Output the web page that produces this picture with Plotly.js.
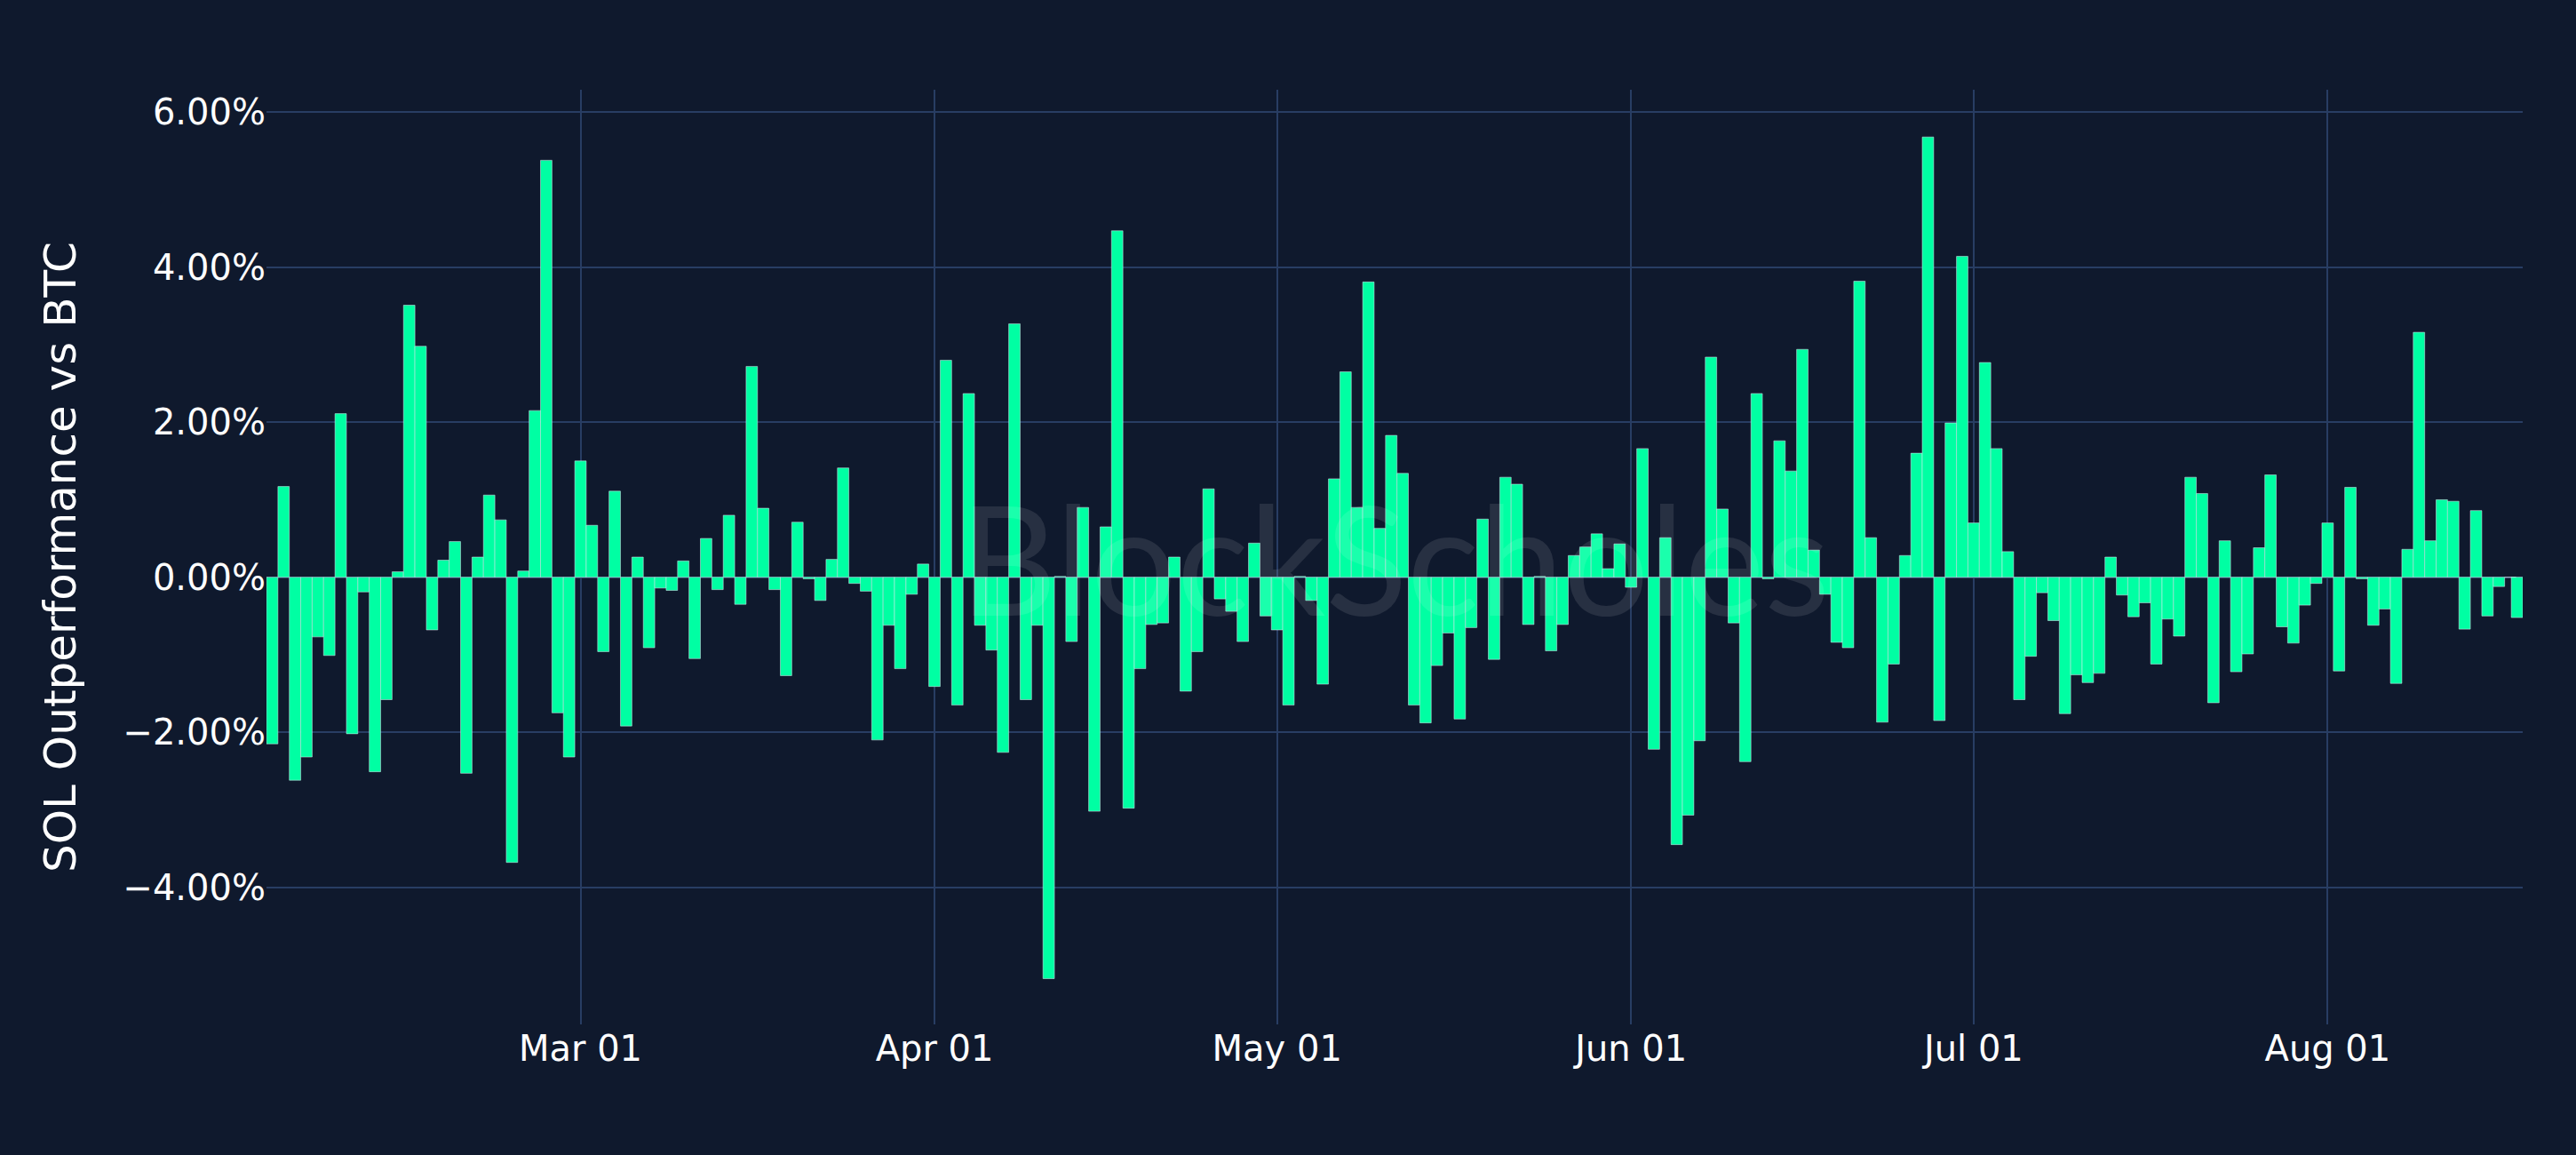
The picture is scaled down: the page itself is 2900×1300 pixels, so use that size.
<!DOCTYPE html>
<html>
<head>
<meta charset="utf-8">
<script src="https://cdn.plot.ly/plotly-3.0.1.min.js"></script>
<style>
  html, body { margin: 0; padding: 0; background: #0f192d; }
  #chart { width: 2900px; height: 1300px; }
</style>
</head>
<body>
<div id="chart"></div>
<script>
// daily SOL vs BTC outperformance, 2024-02-03 .. 2024-08-17 (plus a partial last day)
const startDate = "2024-02-03";
const lastStamp = "2024-08-17 14:00";

// values in percent, one per day from startDate
const outperfPct = [
    -2.15, 1.17, -2.62, -2.32, -0.77, -1.01, 2.11, -2.02, -0.19, -2.51,
    -1.58, 0.07, 3.51, 2.98, -0.68, 0.22, 0.46, -2.53, 0.26, 1.06,
    0.74, -3.68, 0.08, 2.15, 5.38, -1.75, -2.32, 1.50, 0.67, -0.96,
    1.11, -1.92, 0.26, -0.91, -0.14, -0.17, 0.21, -1.05, 0.50, -0.16,
    0.80, -0.35, 2.72, 0.89, -0.16, -1.27, 0.71, -0.02, -0.30, 0.23,
    1.41, -0.08, -0.18, -2.10, -0.62, -1.18, -0.22, 0.17, -1.41, 2.80,
    -1.65, 2.37, -0.62, -0.94, -2.26, 3.27, -1.58, -0.62, -5.18, 0.01,
    -0.83, 0.90, -3.02, 0.65, 4.47, -2.98, -1.18, -0.61, -0.59, 0.26,
    -1.47, -0.96, 1.14, -0.28, -0.44, -0.83, 0.44, -0.50, -0.68, -1.65,
    0.01, -0.30, -1.38, 1.27, 2.65, 0.90, 3.81, 0.63, 1.83, 1.34,
    -1.65, -1.88, -1.14, -0.72, -1.83, -0.65, 0.75, -1.06, 1.29, 1.20,
    -0.61, 0.01, -0.95, -0.61, 0.28, 0.39, 0.56, 0.11, 0.43, -0.13,
    1.66, -2.22, 0.51, -3.45, -3.07, -2.11, 2.84, 0.88, -0.59, -2.38,
    2.37, -0.02, 1.76, 1.37, 2.94, 0.35, -0.22, -0.84, -0.91, 3.82,
    0.51, -1.87, -1.12, 0.28, 1.60, 5.68, -1.85, 1.99, 4.14, 0.70,
    2.77, 1.66, 0.33, -1.58, -1.02, -0.20, -0.56, -1.76, -1.26, -1.36,
    -1.24, 0.26, -0.23, -0.51, -0.33, -1.12, -0.54, -0.76, 1.29, 1.08,
    -1.62, 0.47, -1.22, -0.99, 0.38, 1.32, -0.64, -0.85, -0.36, -0.08,
    0.70, -1.21, 1.16, -0.02, -0.62, -0.41, -1.37, 0.36, 3.16, 0.47,
    1.00, 0.98, -0.67, 0.86, -0.50, -0.12, 0.00
];
const lastPct = -0.52;

const yTickVals = [-0.04, -0.02, 0, 0.02, 0.04, 0.06];
const monthTicks = ["2024-03-01", "2024-04-01", "2024-05-01", "2024-06-01", "2024-07-01", "2024-08-01"];

// build the date axis
const dates = [];
const d0 = new Date(startDate + "T00:00:00Z");
for (let i = 0; i < outperfPct.length; i++) {
    const d = new Date(d0.getTime() + i * 86400000);
    dates.push(d.toISOString().slice(0, 10));
}
dates.push(lastStamp);
const values = outperfPct.concat([lastPct]).map(v => v / 100);

const gridCol = "#283d63";
const font = "Verdana, 'DejaVu Sans', sans-serif";

Plotly.newPlot("chart", [{
    type: "bar",
    x: dates,
    y: values,
    width: 86400000,
    marker: {
        color: "#00ffa3",
        line: { color: "#e5ecf6", width: 0.5 }
    },
    hovertemplate: "%{x}<br>%{y:.2%}<extra></extra>"
}], {
    width: 2900,
    height: 1300,
    paper_bgcolor: "#0f192d",
    plot_bgcolor: "#0f192d",
    margin: { l: 300, r: 60, t: 101, b: 147 },
    font: { family: font, color: "#ffffff", size: 40 },
    showlegend: false,
    xaxis: {
        type: "date",
        tickvals: monthTicks,
        tickformat: "%b %d",
        showgrid: true,
        gridcolor: gridCol,
        gridwidth: 2,
        zeroline: false,
        showline: false,
        ticks: "",
        tickfont: { size: 40, color: "#ffffff" }
    },
    yaxis: {
        title: { text: "SOL Outperformance vs BTC", font: { size: 50, color: "#ffffff" }, standoff: 36 },
        range: [-0.0577, 0.0629],
        tickvals: yTickVals,
        tickformat: ".2%",
        showgrid: true,
        gridcolor: gridCol,
        gridwidth: 2,
        zeroline: false,
        showline: false,
        ticks: "",
        tickfont: { size: 40, color: "#ffffff" }
    },
    annotations: [{
        text: "BlockScholes",
        xref: "paper", yref: "paper",
        x: 0.5, y: 0.5,
        showarrow: false,
        font: { family: "Lato, sans-serif", size: 170, color: "rgba(255,255,255,0.1)" }
    }]
}, { displayModeBar: false });
</script>
</body>
</html>
